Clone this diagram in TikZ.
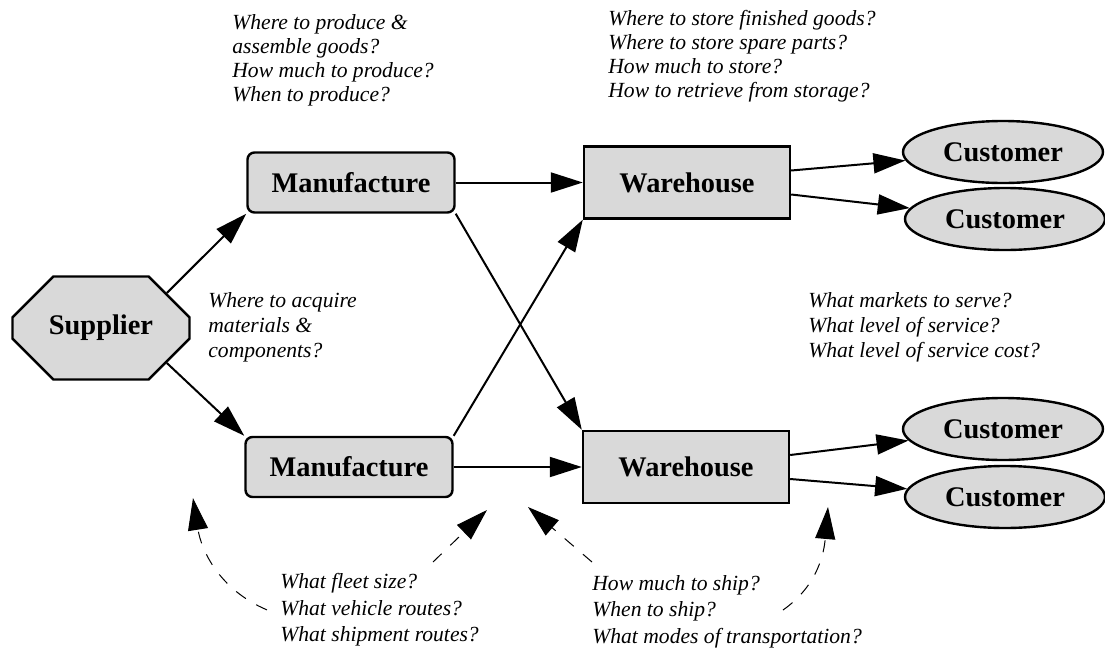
\documentclass[tikz,border=0pt]{standalone}
\usepackage{fontspec}
\setmainfont{Liberation Serif}
\usetikzlibrary{arrows.meta,shapes.misc,shapes.geometric}
\definecolor{boxgray}{RGB}{217,217,217}

\begin{document}
\begin{tikzpicture}[x=0.5pt,y=0.5pt,
    box/.style={draw=black, line width=1.2pt, fill=boxgray, inner sep=0pt,
      font=\fontsize{14.2}{16}\selectfont\bfseries},
    mfg/.style={box, rounded corners=3.5pt, minimum width=103.5pt, minimum height=30pt},
    store/.style={box, minimum width=103pt, minimum height=36pt},
    cust/.style={box, ellipse, minimum width=100pt, minimum height=31pt},
    supp/.style={box, chamfered rectangle, chamfered rectangle xsep=14.5pt,
      chamfered rectangle ysep=14pt, minimum width=88.5pt, minimum height=51.5pt},
    ques/.style={anchor=north west, inner sep=0pt, align=left,
      font=\fontsize{10.8}{#1}\selectfont\itshape},
    flow/.style={-{Triangle[length=16pt,width=10pt]}, line width=1pt},
    route/.style={-{Triangle[length=16pt,width=10pt]}, line width=0.5pt,
      dash pattern=on 6pt off 6pt}]
  \useasboundingbox (0,0) rectangle (1105,-654);

  \node[supp] (sup) at (101,-328) {Supplier};
  \node[mfg] (m1) at (351,-182.5) {Manufacture};
  \node[mfg] (m2) at (349,-467) {Manufacture};
  \node[store] (w1) at (687,-182.5) {Warehouse};
  \node[store] (w2) at (686,-467) {Warehouse};
  \node[cust] (c1) at (1003,-152) {Customer};
  \node[cust] (c2) at (1005,-219) {Customer};
  \node[cust] (c3) at (1003,-429) {Customer};
  \node[cust] (c4) at (1005,-497) {Customer};

  \node[ques=12pt] (qmake) at (232,-14) {Where to produce \&\\assemble goods?\\How much to produce?\\When to produce?};
  \node[ques=12pt] (qstore) at (608,-10) {Where to store finished goods?\\Where to store spare parts?\\How much to store?\\How to retrieve from storage?};
  \node[ques=12.5pt] (qbuy) at (208,-292) {Where to acquire\\materials \&\\components?};
  \node[ques=12.5pt] (qserve) at (808,-292) {What markets to serve?\\What level of service?\\What level of service cost?};
  \node[ques=13.3pt] (qfleet) at (280,-573) {What fleet size?\\What vehicle routes?\\What shipment routes?};
  \node[ques=13.3pt] (qship) at (592,-575) {How much to ship?\\When to ship?\\What modes of transportation?};

  \draw[flow] (sup.28) -- (m1.south west);
  \draw[flow] (sup.-28) -- (m2.north west);
  \draw[flow] (m1) -- (w1);
  \draw[flow] (m1.south east) -- (w2.north west);
  \draw[flow] (m2.north east) -- (w1.south west);
  \draw[flow] (m2) -- (w2);
  \draw[flow] ([yshift=6pt]w1.east) -- (c1);
  \draw[flow] ([yshift=-6pt]w1.east) -- (c2);
  \draw[flow] ([yshift=6pt]w2.east) -- (c3);
  \draw[flow] ([yshift=-6pt]w2.east) -- (c4);

  \coordinate (tip1) at (193,-498);
  \coordinate (tip2) at (487,-510);
  \coordinate (tip3) at (528,-507);
  \coordinate (tip4) at (828,-507);
  \coordinate (from2) at (433,-562);
  \coordinate (from3) at (592,-562);
  \coordinate (from4) at (783,-610);
  \draw[route] ([xshift=-6.5pt]qfleet.west) to[out=157,in=-81] (tip1);
  \draw[route] (from2) -- (tip2);
  \draw[route] (from3) -- (tip3);
  \draw[route] (from4) to[out=35,in=-95] (tip4);
\end{tikzpicture}
\end{document}
